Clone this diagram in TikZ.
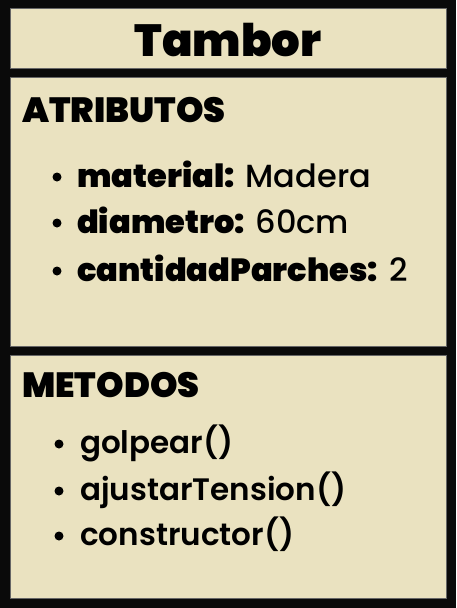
\documentclass[tikz,border=0pt]{standalone}
\usepackage{fontspec}
\setmainfont{Poppins Medium}
\newfontfamily\heavyfont{Poppins Black}
\newfontfamily\semifont{Poppins SemiBold}
\usepackage{tikz}
\usetikzlibrary{positioning}

\definecolor{parchment}{HTML}{EAE2C0}
\definecolor{ink}{HTML}{0A0A0A}

\begin{document}
\begin{tikzpicture}[
    x=1pt, y=-1pt,
    panel/.style={rectangle, draw=black!60, line width=0.8pt, fill=parchment, minimum width=436pt, inner sep=0pt},
    heading/.style={anchor=base west, inner sep=0pt, font=\heavyfont\fontsize{35}{35}\selectfont},
    attr/.style={anchor=base west, inner sep=0pt, font=\fontsize{32}{32}\selectfont},
    meth/.style={anchor=base west, inner sep=0pt, font=\semifont\fontsize{31}{31}\selectfont},
    dot/.style={circle, fill=black, inner sep=0pt, minimum size=9pt}
]

% Background
\fill[ink] (0,0) rectangle (456,608);
\useasboundingbox (0,0) rectangle (456,608);

% Panels
\node[panel, minimum height=60pt] (titlebox) at (228,38) {};
\node[panel, minimum height=269pt] (attrbox) at (228,211.5) {};
\node[panel, minimum height=243pt] (methbox) at (228,476.5) {};

% Title
\node[anchor=base, inner sep=0pt, font=\heavyfont\fontsize{45}{45}\selectfont] (title) at (228,56) {Tambor};

% Attributes
\node[heading] (attrhead) at (22,122) {ATRIBUTOS};
\node[attr] (attr1) at (77,187) {{\heavyfont material:} Madera};
\node[attr] (attr2) at (77,233) {{\heavyfont diametro:} 60cm};
\node[attr] (attr3) at (77,281) {{\heavyfont cantidadParches:} 2};
\node[dot] (bullet1) at ([shift={(-20,-10)}]attr1.base west) {};
\node[dot] (bullet2) at ([shift={(-20,-10)}]attr2.base west) {};
\node[dot] (bullet3) at ([shift={(-20,-10)}]attr3.base west) {};

% Methods
\node[heading] (methhead) at (22,397) {METODOS};
\node[meth] (meth1) at (80,453) {golpear()};
\node[meth] (meth2) at (80,500) {ajustarTension()};
\node[meth] (meth3) at (80,545) {constructor()};
\node[dot] (bullet4) at ([shift={(-21,-9)}]meth1.base west) {};
\node[dot] (bullet5) at ([shift={(-21,-9)}]meth2.base west) {};
\node[dot] (bullet6) at ([shift={(-21,-9)}]meth3.base west) {};

\end{tikzpicture}
\end{document}
